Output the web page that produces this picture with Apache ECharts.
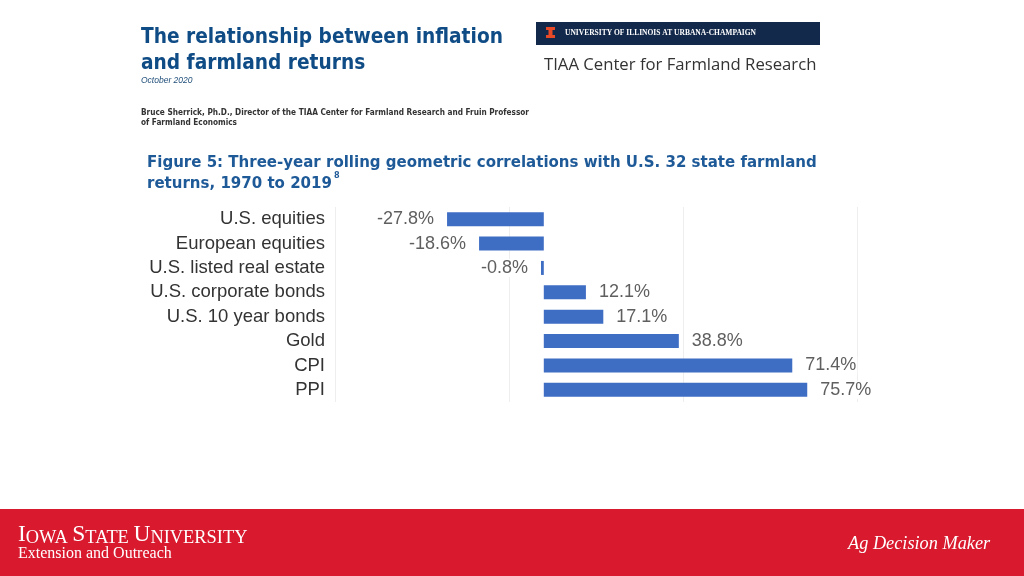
<!DOCTYPE html>
<html>
<head>
<meta charset="utf-8">
<script src="https://cdn.jsdelivr.net/npm/echarts@6/dist/echarts.min.js"></script>
<style>
html,body{margin:0;padding:0;background:#fff;}
#chart{width:1024px;height:576px;}
</style>
</head>
<body>
<div id="chart"></div>
<script>
const categories = ['U.S. equities','European equities','U.S. listed real estate','U.S. corporate bonds','U.S. 10 year bonds','Gold','CPI','PPI'];
const correlations = [-27.8, -18.6, -0.8, 12.1, 17.1, 38.8, 71.4, 75.7];
const axisMin = -60, axisMax = 90, axisStep = 50;

const chart = echarts.init(document.getElementById('chart'), null, {renderer:'canvas'});
const labelFont = 'Liberation Sans, Arial, sans-serif';
const option = {
  animation:false,
  backgroundColor:'#ffffff',
  grid:{left:335, right:167, top:207, bottom:174, containLabel:false},
  xAxis:{
    type:'value', min:axisMin, max:axisMax, interval:axisStep,
    axisLabel:{show:false}, axisLine:{show:false}, axisTick:{show:false},
    splitLine:{show:true, lineStyle:{color:'#eeeeee', width:1}}
  },
  yAxis:{
    type:'category', data:categories, inverse:true,
    axisLine:{show:false}, axisTick:{show:false},
    axisLabel:{interval:0, hideOverlap:false, fontFamily:labelFont, fontSize:18.5, color:'#333333', margin:10}
  },
  series:[{
    type:'bar', data:correlations.map(v=>({value:v, label:{position: v<0?'left':'right'}})),
    barWidth:14,
    itemStyle:{color:'#3e6dc4'},
    label:{show:true, distance:12, fontFamily:labelFont, fontSize:18, color:'#5f5f5f',
      backgroundColor:'#ffffff', padding:[0,1],
      formatter:p=>p.value.toFixed(1)+'%'}
  }],
  graphic:[
    {type:'text', left:141, top:25, style:{text:'The relationship between inflation\nand farmland returns', font:'bold 20.7px "DejaVu Sans Condensed", "DejaVu Sans", sans-serif', fill:'#0f4c86', lineHeight:26}},
    {type:'text', left:141, top:76, style:{text:'October 2020', font:'italic 8.5px "Liberation Sans", sans-serif', fill:'#1f4e79'}},
    {type:'text', left:141, top:108, style:{text:'Bruce Sherrick, Ph.D., Director of the TIAA Center for Farmland Research and Fruin Professor\nof Farmland Economics', font:'bold 8.2px "DejaVu Sans Condensed", sans-serif', fill:'#333333', lineHeight:10}},
    {type:'rect', shape:{x:536, y:22, width:284, height:23}, style:{fill:'#13294b'}},
    {type:'polygon', shape:{points:[[546,27],[555,27],[555,30],[552.5,30],[552.5,35],[555,35],[555,38],[546,38],[546,35],[548.5,35],[548.5,30],[546,30]]}, style:{fill:'#e84a27'}},
    {type:'text', left:565, top:29, style:{text:'UNIVERSITY OF ILLINOIS AT URBANA-CHAMPAIGN', font:'bold 7.5px "Liberation Serif", serif', fill:'#ffffff'}},
    {type:'text', left:544, top:57, style:{text:'TIAA Center for Farmland Research', font:'16.7px "Open Sans", sans-serif', fill:'#333333'}},
    {type:'text', left:147, top:152, style:{text:'Figure 5: Three-year rolling geometric correlations with U.S. 32 state farmland\nreturns, 1970 to 2019', font:'bold 16.7px "DejaVu Sans Condensed", sans-serif', fill:'#1f5a98', lineHeight:21}},
    {type:'text', left:334, top:171, style:{text:'8', font:'bold 9px "DejaVu Sans Condensed", sans-serif', fill:'#1f5a98'}},
    {type:'rect', shape:{x:0, y:509, width:1024, height:67}, style:{fill:'#d8192e'}},
    {type:'text', left:18, top:523, style:{
      text:'{b|I}{s|OWA }{b|S}{s|TATE }{b|U}{s|NIVERSITY}',
      rich:{
        b:{font:'23.5px "Liberation Serif", serif', fill:'#ffffff', verticalAlign:'bottom'},
        s:{font:'18.4px "Liberation Serif", serif', fill:'#ffffff', verticalAlign:'bottom'}
      }}},
    {type:'text', left:18, top:546, style:{text:'Extension and Outreach', font:'16px "Liberation Serif", serif', fill:'#ffffff'}},
    {type:'text', left:848, top:535, style:{text:'Ag Decision Maker', font:'italic 18.3px "Liberation Serif", serif', fill:'#ffffff'}}
  ]
};
chart.setOption(option);
</script>
</body>
</html>
